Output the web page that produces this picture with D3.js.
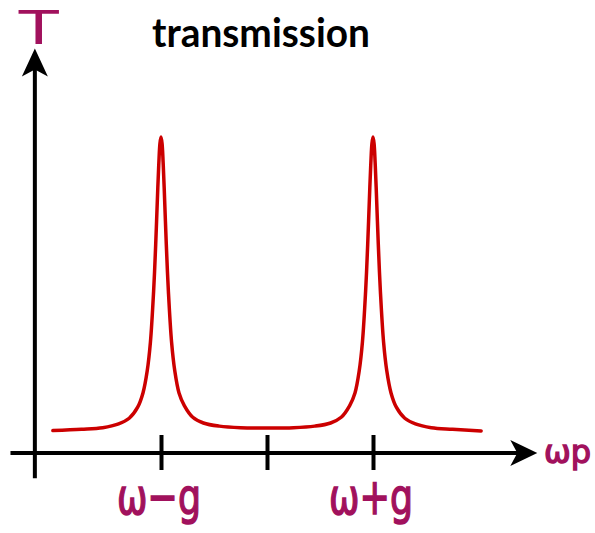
<!DOCTYPE html>
<html>
<head>
<meta charset="utf-8">
<script src="https://cdn.jsdelivr.net/npm/d3@7"></script>
<style>
  html, body { margin: 0; padding: 0; background: #fff; }
  svg { display: block; }
</style>
</head>
<body>
<div class="chart"></div>
<script>
// detuning in units of g (0 = bare ω), transmission normalised to peak
const omega = [-2.02, -1.75, -1.55, -1.40, -1.30, -1.22, -1.17, -1.13, -1.10, -1.07, -1.05, -1.03, -1.02, -1.01, -1.00,
  -0.99, -0.98, -0.97, -0.95, -0.93, -0.90, -0.87, -0.83, -0.78, -0.70, -0.60, -0.45, -0.25, 0,
  0.25, 0.45, 0.60, 0.70, 0.78, 0.83, 0.87, 0.90, 0.93, 0.95, 0.97, 0.98, 0.99, 1.00,
  1.01, 1.02, 1.03, 1.05, 1.07, 1.10, 1.13, 1.17, 1.22, 1.30, 1.40, 1.55, 1.75, 2.02];
const trans = [0.071, 0.075, 0.080, 0.092, 0.110, 0.145, 0.19, 0.26, 0.35, 0.51, 0.66, 0.84, 0.92, 0.98, 1.00,
  0.98, 0.92, 0.84, 0.66, 0.51, 0.35, 0.26, 0.19, 0.15, 0.113, 0.095, 0.085, 0.080, 0.079,
  0.080, 0.085, 0.095, 0.113, 0.15, 0.19, 0.26, 0.35, 0.51, 0.66, 0.84, 0.92, 0.98, 1.00,
  0.98, 0.92, 0.84, 0.66, 0.51, 0.35, 0.26, 0.19, 0.145, 0.110, 0.092, 0.080, 0.075, 0.070];

const tickValues = [-1, 0, 1];
const tickLabels = ["ω−g", "", "ω+g"];
const xExtent = [-2.42, 2.55];   // horizontal axis line
const yExtent = [-0.08, 1.28];   // vertical axis line
const yAxisAt = -2.19;
const title = "transmission";
const yLabel = "T";
const xLabel = "ωp";

const width = 595, height = 533;
const ink = "#a1115d", red = "#cc0000";

const x = d3.scaleLinear().domain([-1, 1]).range([161, 373]);
const y = d3.scaleLinear().domain([0, 1]).range([453, 137]);

const svg = d3.select(".chart").append("svg")
  .attr("width", width).attr("height", height);

// axes
svg.append("line")
  .attr("x1", x(xExtent[0])).attr("x2", x(xExtent[1]) - 10)
  .attr("y1", y(0)).attr("y2", y(0))
  .attr("stroke", "#000").attr("stroke-width", 4);
svg.append("line")
  .attr("x1", x(yAxisAt)).attr("x2", x(yAxisAt))
  .attr("y1", y(yExtent[0])).attr("y2", y(yExtent[1]) + 10)
  .attr("stroke", "#000").attr("stroke-width", 4);

// arrow heads
const tipX = [x(xExtent[1]), y(0)];
svg.append("path")
  .attr("d", `M${tipX[0]},${tipX[1]} L${tipX[0] - 27},${tipX[1] - 13} L${tipX[0] - 20},${tipX[1]} L${tipX[0] - 27},${tipX[1] + 13} Z`)
  .attr("fill", "#000");
const tipY = [x(yAxisAt), y(yExtent[1])];
svg.append("path")
  .attr("d", `M${tipY[0]},${tipY[1]} L${tipY[0] - 13},${tipY[1] + 28} L${tipY[0]},${tipY[1] + 21} L${tipY[0] + 13},${tipY[1] + 28} Z`)
  .attr("fill", "#000");

// ticks crossing the axis
const tickAxis = d3.axisBottom(x).tickValues(tickValues).tickSize(35).tickFormat("");
const tg = svg.append("g")
  .attr("transform", `translate(0,${y(0) - 18})`)
  .call(tickAxis);
tg.select(".domain").remove();
tg.selectAll(".tick line").attr("stroke", "#000").attr("stroke-width", 4);

// curve
const line = d3.line()
  .x((d, i) => x(omega[i]))
  .y(d => y(d))
  .curve(d3.curveCatmullRom.alpha(0.5));
svg.append("path")
  .attr("d", line(trans))
  .attr("fill", "none")
  .attr("stroke", red)
  .attr("stroke-width", 3.5)
  .attr("stroke-linejoin", "round")
  .attr("stroke-linecap", "round");

// tick labels
svg.selectAll("text.tick-label")
  .data(tickValues.map((v, i) => ({ v, t: tickLabels[i] })).filter(d => d.t))
  .enter().append("text")
    .attr("class", "tick-label")
    .attr("x", d => x(d.v) - 2)
    .attr("y", 514)
    .attr("text-anchor", "middle")
    .attr("font-family", "DejaVu Sans")
    .attr("font-size", 50)
    .attr("textLength", 84)
    .attr("lengthAdjust", "spacingAndGlyphs")
    .attr("fill", ink)
    .attr("stroke", ink)
    .attr("stroke-width", 1.6)
    .text(d => d.t);

// axis labels
svg.append("text")
  .attr("x", x(yAxisAt) + 4).attr("y", 44)
  .attr("text-anchor", "middle")
  .attr("font-family", "DejaVu Sans")
  .attr("font-size", 46)
  .attr("textLength", 40)
  .attr("lengthAdjust", "spacingAndGlyphs")
  .attr("fill", ink)
  .text(yLabel);
svg.append("text")
  .attr("x", 544).attr("y", 463)
  .attr("font-family", "DejaVu Sans")
  .attr("font-size", 32)
  .attr("fill", ink)
  .attr("stroke", ink)
  .attr("stroke-width", 1.4)
  .text(xLabel);

// title
svg.append("text")
  .attr("x", 261).attr("y", 47)
  .attr("text-anchor", "middle")
  .attr("font-family", "Lato, 'Open Sans', sans-serif")
  .attr("font-weight", "bold")
  .attr("font-size", 40)
  .attr("textLength", 218)
  .attr("lengthAdjust", "spacingAndGlyphs")
  .attr("fill", "#000")
  .text(title);
</script>
</body>
</html>
